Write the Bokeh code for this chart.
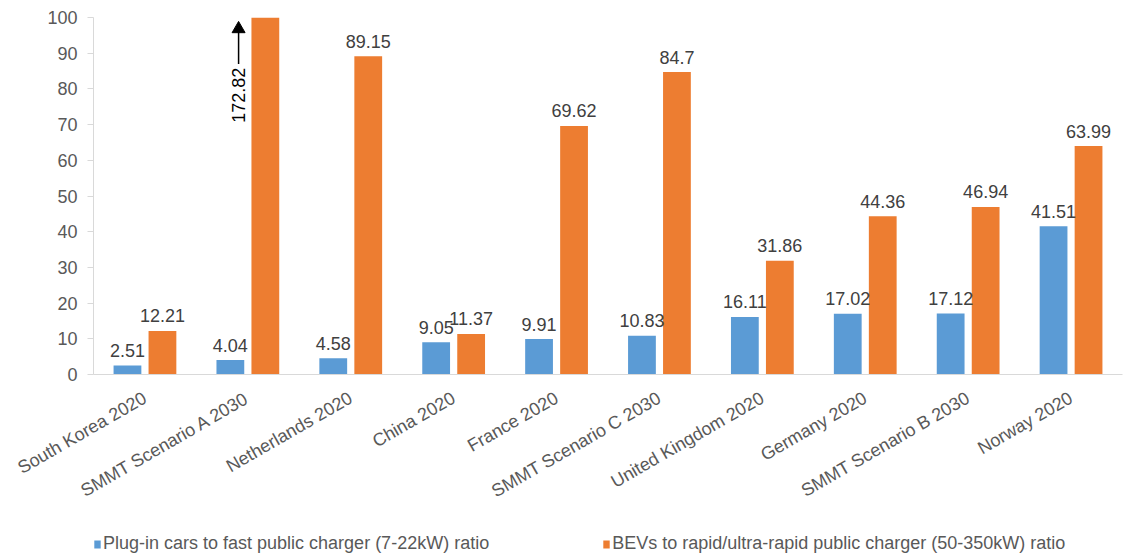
import math
from bokeh.plotting import figure
from bokeh.layouts import column
from bokeh.models import (ColumnDataSource, FactorRange, Range1d, Legend, LegendItem,
                          SingleIntervalTicker)
from bokeh.transform import dodge
from bokeh.core.properties import value
from bokeh.embed import file_html
from bokeh.resources import INLINE

categories = ["South Korea 2020", "SMMT Scenario A 2030", "Netherlands 2020", "China 2020",
              "France 2020", "SMMT Scenario C 2030", "United Kingdom 2020", "Germany 2020",
              "SMMT Scenario B 2030", "Norway 2020"]
plugin_fast = [2.51, 4.04, 4.58, 9.05, 9.91, 10.83, 16.11, 17.02, 17.12, 41.51]
bev_rapid = [12.21, 172.82, 89.15, 11.37, 69.62, 84.7, 31.86, 44.36, 46.94, 63.99]
series_names = ["Plug-in cars to fast public charger (7-22kW) ratio",
                "BEVs to rapid/ultra-rapid public charger (50-350kW) ratio"]
y_max = 100

BLUE = "#5B9BD5"
ORANGE = "#ED7D31"
FONT = "Liberation Sans"

def fmt(v):
    return ("%g" % v)

src = ColumnDataSource(dict(
    cat=categories,
    a=plugin_fast,
    b=bev_rapid,
    a_lab=[fmt(v) for v in plugin_fast],
))

ob = [(c, v) for c, v in zip(categories, bev_rapid) if v <= y_max]
ob_src = ColumnDataSource(dict(cat=[c for c, v in ob], b=[v for c, v in ob],
                               lab=[fmt(v) for c, v in ob]))
off = [(c, v) for c, v in zip(categories, bev_rapid) if v > y_max]
off_src = ColumnDataSource(dict(cat=[c for c, v in off], lab=[fmt(v) for c, v in off],
                                ty=[78.2] * len(off), y0=[87.0] * len(off),
                                y1=[96.0] * len(off), yh=[96.8] * len(off)))

p = figure(x_range=FactorRange(*categories), y_range=Range1d(0, y_max),
           width=1135, height=515, output_backend="svg", toolbar_location=None,
           min_border_left=93, min_border_right=13, min_border_top=17, min_border_bottom=141)

W = 0.27
OFF = 0.17
rb = p.vbar(x=dodge("cat", -OFF, range=p.x_range), top="a", width=W, source=src,
            fill_color=BLUE, line_color=None)
ro = p.vbar(x=dodge("cat", OFF, range=p.x_range), top="b", width=W, source=src,
            fill_color=ORANGE, line_color=None)

p.text(x=dodge("cat", -OFF, range=p.x_range), y="a", text="a_lab", source=src,
       text_align="center", text_baseline="alphabetic", y_offset=-15,
       text_font=value(FONT), text_font_size="18px", text_color="#404040")
p.text(x=dodge("cat", OFF, range=p.x_range), y="b", text="lab", source=ob_src,
       text_align="center", text_baseline="alphabetic", y_offset=-15,
       text_font=value(FONT), text_font_size="18px", text_color="#404040")

AX = -0.09
p.text(x=dodge("cat", AX, range=p.x_range), y="ty", text="lab", source=off_src,
       angle=math.pi / 2, text_align="center", text_baseline="middle",
       text_font=value(FONT), text_font_size="18px", text_color="#000000")
p.segment(x0=dodge("cat", AX, range=p.x_range), y0="y0",
          x1=dodge("cat", AX, range=p.x_range), y1="y1", source=off_src,
          line_color="black", line_width=1.5)
p.scatter(x=dodge("cat", AX, range=p.x_range), y="yh", source=off_src,
          marker="triangle", size=13, fill_color="black", line_color="black")

p.xgrid.grid_line_color = None
p.ygrid.grid_line_color = None
p.outline_line_color = None

p.yaxis.ticker = SingleIntervalTicker(interval=10)
p.yaxis.axis_line_color = "#D9D9D9"
p.yaxis.major_tick_line_color = "#D9D9D9"
p.yaxis.major_tick_out = 6
p.yaxis.major_tick_in = 0
p.yaxis.minor_tick_line_color = None
p.yaxis.major_label_text_font = FONT
p.yaxis.major_label_text_font_size = "18px"
p.yaxis.major_label_text_color = "#595959"
p.yaxis.major_label_standoff = 10

p.xaxis.axis_line_color = "#D9D9D9"
p.xaxis.major_tick_line_color = None
p.xaxis.minor_tick_line_color = None
p.xaxis.major_label_orientation = math.pi / 6
p.xaxis.major_label_text_font = FONT
p.xaxis.major_label_text_font_size = "18px"
p.xaxis.major_label_text_color = "#595959"
p.xaxis.major_label_standoff = 16

# legend strip below the chart (legend swatches only; no marks are drawn here)
lg = figure(width=1135, height=40, output_backend="svg", toolbar_location=None,
            x_range=Range1d(0, 1), y_range=Range1d(0, 1),
            min_border_left=0, min_border_right=0, min_border_top=0, min_border_bottom=0)
lg.xaxis.visible = False
lg.yaxis.visible = False
lg.xgrid.grid_line_color = None
lg.ygrid.grid_line_color = None
lg.outline_line_color = None
nan = float("nan")
swatch = ColumnDataSource(dict(x=[nan], top=[nan]))
db = lg.vbar(x="x", top="top", source=swatch, width=0.01,
             fill_color=BLUE, line_color=None)
do = lg.vbar(x="x", top="top", source=swatch, width=0.01,
             fill_color=ORANGE, line_color=None)
legend = Legend(items=[LegendItem(label=series_names[0], renderers=[db]),
                       LegendItem(label=series_names[1], renderers=[do])],
                orientation="horizontal", location=(0, 1),
                label_text_font=FONT, label_text_font_size="18px",
                label_text_color="#595959", glyph_width=8, glyph_height=10,
                label_standoff=2, spacing=113, padding=0, margin=0,
                border_line_color=None, background_fill_alpha=0)
lg.add_layout(legend)

layout = column(p, lg, spacing=0)
open("out.html", "w").write(file_html(layout, INLINE))
